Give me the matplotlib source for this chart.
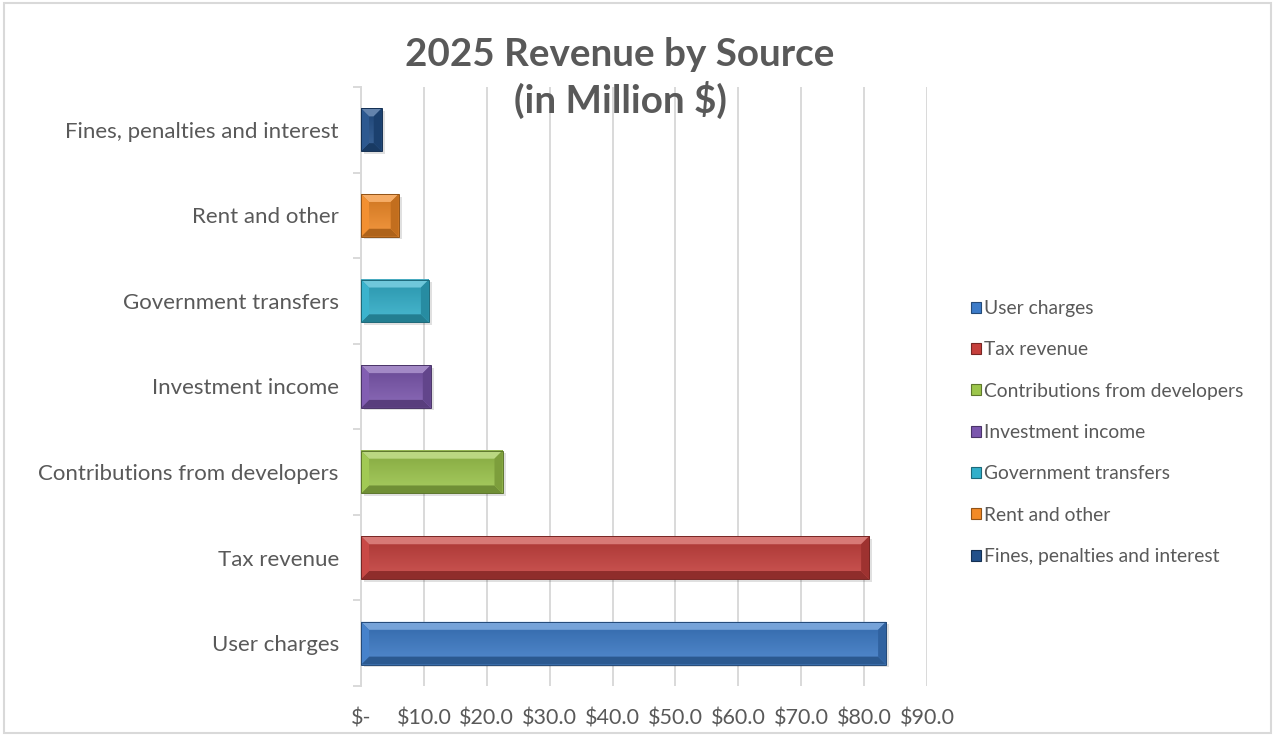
import numpy as np
import matplotlib.pyplot as plt
from matplotlib.patches import Polygon, Rectangle, Patch
from matplotlib.colors import to_rgb

# =========================
# DATA
# =========================
sources = ["User charges", "Tax revenue", "Contributions from developers",
           "Investment income", "Government transfers", "Rent and other",
           "Fines, penalties and interest"]
revenue = [83.5, 80.8, 22.5, 11.1, 10.8, 6.0, 3.3]
colors = ["#3C7BC8", "#C63F3C", "#9CC64B", "#7B56AE", "#31AFCA", "#F28A26", "#22508A"]

ticks = np.arange(0, 100, 10)
tick_labels = ["$-"] + [f"${t:.1f}" for t in ticks[1:]]

TEXT = "#595959"
GRID = "#D9D9D9"
FONT = "Lato"


def mix(c, other, t):
    c = np.array(to_rgb(c))
    return tuple(c + (np.array(other) - c) * t)


def light(c, t):
    return mix(c, (1, 1, 1), t)


def dark(c, t):
    return mix(c, (0, 0, 0), t)


# =========================
# FIGURE
# =========================
fig = plt.figure(figsize=(12.75, 7.36), dpi=100)
fig.patches.append(Rectangle((0.003, 0.004), 0.994, 0.992, transform=fig.transFigure,
                             fill=False, edgecolor=GRID, lw=1.5))

ax = fig.add_axes([361 / 1275, 1 - 686 / 736, 566 / 1275, 599 / 736])
ax.set_xlim(0, 90)
ax.set_ylim(-0.5, len(sources) - 0.5)

ypos = np.arange(len(sources))
bar_h = 0.5
bars = ax.barh(ypos, revenue, height=bar_h, color=colors, zorder=3)

# bevel size in data units (about 8 px)
fig.canvas.draw()
bb = ax.get_window_extent()
dx = 8 * 90 / bb.width
dy = 8 * len(sources) / bb.height

for rect, c in zip(bars, colors):
    x0, y0 = rect.get_x(), rect.get_y()
    x1, y1 = x0 + rect.get_width(), y0 + rect.get_height()
    # soft drop shadow
    ax.add_patch(Rectangle((x0 + 0.5, y0 - 0.03), x1 - x0, y1 - y0,
                           color="black", alpha=0.12, lw=0, zorder=2))
    # vertical shading on the face
    grad = np.linspace(0, 1, 50)[:, None]
    top_c = np.array(light(c, 0.12))
    bot_c = np.array(dark(c, 0.15))
    img = top_c[None, None, :] * (1 - grad[..., None]) + bot_c[None, None, :] * grad[..., None]
    ax.imshow(img, extent=(x0, x1, y1, y0), aspect="auto", zorder=3.5,
              interpolation="bilinear")
    ex = min(dx, (x1 - x0) / 2)
    faces = [
        ([(x0, y1), (x1, y1), (x1 - ex, y1 - dy), (x0 + ex, y1 - dy)], light(c, 0.3)),
        ([(x0, y0), (x1, y0), (x1 - ex, y0 + dy), (x0 + ex, y0 + dy)], dark(c, 0.28)),
        ([(x0, y0), (x0, y1), (x0 + ex, y1 - dy), (x0 + ex, y0 + dy)], light(c, 0.05)),
        ([(x1, y0), (x1, y1), (x1 - ex, y1 - dy), (x1 - ex, y0 + dy)], dark(c, 0.2)),
    ]
    for pts, fc in faces:
        ax.add_patch(Polygon(pts, closed=True, facecolor=fc, lw=0, zorder=4))
    ax.add_patch(Rectangle((x0, y0), x1 - x0, y1 - y0, fill=False,
                           edgecolor=dark(c, 0.4), lw=0.7, zorder=5))

# =========================
# AXES STYLING
# =========================
ax.set_xticks(ticks)
ax.set_xticklabels(tick_labels, fontsize=15.5, color=TEXT, family=FONT)
ax.tick_params(axis="x", length=0, pad=16)
ax.grid(axis="x", color=GRID, lw=1.4, zorder=0)

ax.set_yticks(ypos)
ax.set_yticklabels(sources, fontsize=16, color=TEXT, family=FONT)
ax.set_yticks(np.arange(-0.5, len(sources)), minor=True)
ax.tick_params(axis="y", which="major", length=0, pad=16)
ax.tick_params(axis="y", which="minor", length=6, color=GRID, width=1.4)

for side in ["top", "right", "bottom"]:
    ax.spines[side].set_visible(False)
ax.spines["left"].set_color(GRID)
ax.spines["left"].set_linewidth(1.4)

fig.text(620 / 1275, 1 - 78 / 736, "2025 Revenue by Source\n(in Million $)",
         ha="center", va="center", fontsize=27.8, fontweight="bold",
         color=TEXT, family=FONT, linespacing=1.3)

handles = [Patch(facecolor=c, edgecolor=dark(c, 0.4), lw=0.8) for c in colors]
fig.legend(handles, sources, loc="upper left", bbox_to_anchor=(971 / 1275, 1 - 300 / 736),
           frameon=False, handlelength=0.5, handleheight=0.5, handletextpad=0.15,
           labelspacing=1.26, prop={"family": FONT, "size": 13.9}, labelcolor=TEXT,
           borderaxespad=0, borderpad=0)

plt.savefig("out.png", dpi=100)
